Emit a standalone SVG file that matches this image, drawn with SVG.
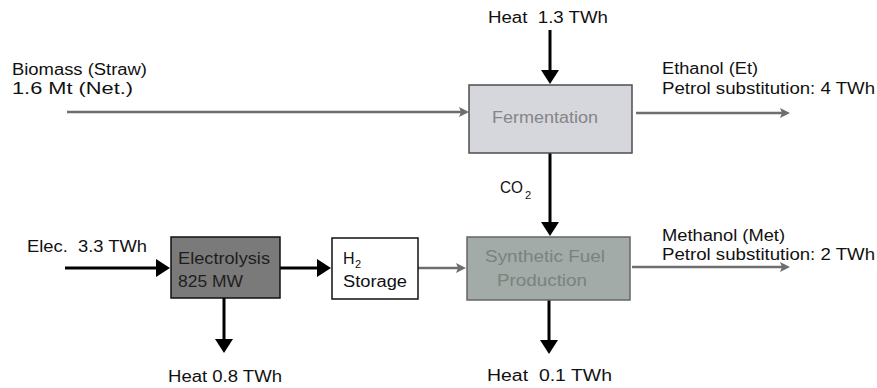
<svg xmlns="http://www.w3.org/2000/svg" width="877" height="388" viewBox="0 0 877 388">
<defs>
<style>
text{font-family:"Liberation Sans",Arial,sans-serif;font-size:16px;fill:#111;white-space:pre}
.sub{font-size:11px}
.blk{stroke:#000;stroke-width:3;fill:none}
.gry{stroke:#6e6e6e;stroke-width:2.5;fill:none}
</style>
<marker id="ab" markerUnits="userSpaceOnUse" markerWidth="14" markerHeight="18" viewBox="0 0 14 18" refX="2" refY="9" orient="auto"><path d="M0,0 L14,9 L0,18 z" fill="#000"/></marker>
<marker id="ag" markerUnits="userSpaceOnUse" markerWidth="10" markerHeight="10" viewBox="0 0 10 10" refX="2" refY="5" orient="auto"><path d="M0,0 L10,5 L0,10 L2,5 z" fill="#6e6e6e"/></marker>
</defs>
<rect width="877" height="388" fill="#fff"/>

<g id="connectors">
<line class="gry" x1="67" y1="112" x2="461" y2="112" marker-end="url(#ag)"/>
<line class="blk" x1="550" y1="30" x2="550" y2="72" marker-end="url(#ab)"/>
<line class="gry" x1="636" y1="113" x2="782" y2="113" marker-end="url(#ag)"/>
<line class="blk" x1="550" y1="153" x2="550" y2="224" marker-end="url(#ab)"/>
<line class="blk" x1="65" y1="268" x2="158" y2="268" marker-end="url(#ab)"/>
<line class="blk" x1="280" y1="268" x2="319" y2="268" marker-end="url(#ab)"/>
<line class="gry" x1="418" y1="268" x2="458" y2="268" marker-end="url(#ag)"/>
<line class="gry" x1="632" y1="267" x2="782" y2="267" marker-end="url(#ag)"/>
<line class="blk" x1="224" y1="298" x2="224" y2="341" marker-end="url(#ab)"/>
<line class="blk" x1="549" y1="300" x2="549" y2="342" marker-end="url(#ab)"/>
</g>

<g id="fermentation">
<rect x="469" y="85" width="163" height="68" fill="#d6d6dd" stroke="#4d4d4d" stroke-width="1.5"/>
<text x="492" y="123" textLength="106" lengthAdjust="spacingAndGlyphs" style="fill:#858585">Fermentation</text>
</g>

<g id="electrolysis">
<rect x="171" y="237" width="109" height="61" fill="#7a7a7a" stroke="#111" stroke-width="1.5"/>
<text x="178" y="264" textLength="92" lengthAdjust="spacingAndGlyphs" style="fill:#1e1e1e">Electrolysis</text>
<text x="178" y="287" textLength="65" lengthAdjust="spacingAndGlyphs" style="fill:#1e1e1e">825 MW</text>
</g>

<g id="h2storage">
<rect x="332" y="238" width="86" height="61" fill="#fff" stroke="#111" stroke-width="1.5"/>
<text x="343" y="264">H</text>
<text class="sub" x="355" y="268">2</text>
<text x="343" y="287" textLength="64" lengthAdjust="spacingAndGlyphs">Storage</text>
</g>

<g id="synthetic">
<rect x="467" y="237" width="163" height="63" fill="#a2aba7" stroke="#666" stroke-width="1.5"/>
<text x="485" y="262" textLength="120" lengthAdjust="spacingAndGlyphs" style="fill:#7a827e">Synthetic Fuel</text>
<text x="497" y="286" textLength="90" lengthAdjust="spacingAndGlyphs" style="fill:#7a827e">Production</text>
</g>

<g id="labels">
<text x="488" y="23" textLength="120" lengthAdjust="spacingAndGlyphs">Heat  1.3 TWh</text>
<text x="12" y="75" textLength="135" lengthAdjust="spacingAndGlyphs">Biomass (Straw)</text>
<text x="12" y="94" textLength="121" lengthAdjust="spacingAndGlyphs">1.6 Mt (Net.)</text>
<text x="662" y="74" textLength="96" lengthAdjust="spacingAndGlyphs">Ethanol (Et)</text>
<text x="662" y="94" textLength="213" lengthAdjust="spacingAndGlyphs">Petrol substitution: 4 TWh</text>
<text x="500" y="193" textLength="23" lengthAdjust="spacingAndGlyphs">CO</text>
<text class="sub" x="525" y="199">2</text>
<text x="662" y="241" textLength="123" lengthAdjust="spacingAndGlyphs">Methanol (Met)</text>
<text x="662" y="260" textLength="213" lengthAdjust="spacingAndGlyphs">Petrol substitution: 2 TWh</text>
<text x="27" y="252" textLength="120" lengthAdjust="spacingAndGlyphs">Elec.  3.3 TWh</text>
<text x="168" y="382" textLength="114" lengthAdjust="spacingAndGlyphs">Heat 0.8 TWh</text>
<text x="487" y="381" textLength="125" lengthAdjust="spacingAndGlyphs">Heat  0.1 TWh</text>
</g>
</svg>
